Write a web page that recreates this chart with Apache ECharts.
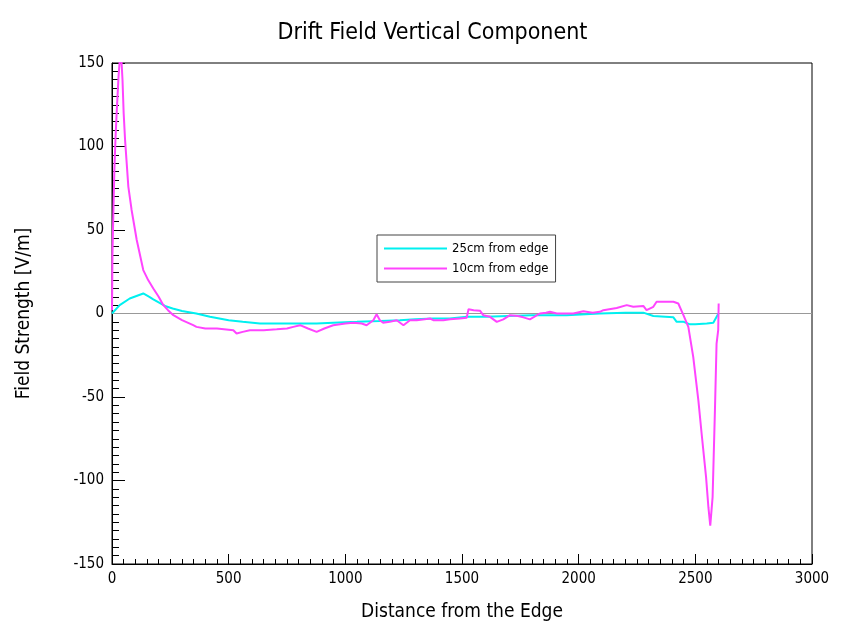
<!DOCTYPE html>
<html>
<head>
<meta charset="utf-8">
<script src="https://cdn.jsdelivr.net/npm/echarts@6/dist/echarts.min.js"></script>
<style>
  html, body { margin: 0; padding: 0; background: #fff; }
  #chart { width: 865px; height: 630px; }
</style>
</head>
<body>
<div id="chart"></div>
<script>
// Vertical component of the drift field along the chamber, two offsets from the edge.
const seriesNames = ['25cm from edge', '10cm from edge'];

const dist25 = [0, 33, 76, 134, 160, 177, 227, 260, 300, 361, 420, 500, 560, 634, 700, 800, 877, 948, 1050, 1150,
  1234, 1300, 1377, 1448, 1520, 1600, 1700, 1800, 1948, 2091, 2200, 2277, 2320, 2406, 2420, 2450, 2477, 2500,
  2549, 2577, 2599];
const field25 = [0, 5, 9, 12, 10, 8.5, 4.5, 3, 1.5, 0, -2, -4, -5, -6, -6, -6, -6, -5.5, -5, -4.5,
  -4, -3.5, -3, -3, -2, -2, -1.5, -1, -1, 0, 0.5, 0.5, -1.5, -2.3, -5, -5, -6.5, -6.5,
  -6, -5.5, 0];

const dist10 = [0, 2, 5, 10, 15, 20, 28, 35, 40, 45, 50, 56, 62, 70, 84, 106, 134, 155, 177, 200, 220, 240,
  263, 300, 348, 362, 400, 450, 520, 534, 560, 591, 650, 706, 750, 777, 806, 840, 877, 910, 948, 1000,
  1034, 1070, 1091, 1120, 1134, 1148, 1162, 1190, 1220, 1249, 1277, 1306, 1340, 1363, 1377, 1420, 1449, 1490, 1520, 1528,
  1550, 1577, 1591, 1620, 1649, 1677, 1706, 1740, 1763, 1791, 1834, 1860, 1877, 1906, 1977, 2020, 2060, 2091, 2106, 2163,
  2206, 2234, 2277, 2291, 2320, 2334, 2406, 2427, 2449, 2470, 2491, 2513, 2527, 2546, 2556, 2564, 2574, 2584, 2591, 2598,
  2600];
const field10 = [2, 36, 55, 85, 105, 120, 142, 155, 153, 140, 120, 104, 92, 76, 62, 44, 26, 20, 15, 10, 5, 2,
  -1, -4, -7, -8, -9, -9, -10, -12, -11, -10, -10, -9.5, -9, -8, -7, -9, -11, -9, -7, -6,
  -5.5, -6, -7, -4, -0.5, -4, -5.5, -5, -4, -7, -4, -4, -3.5, -3, -4, -4, -3.5, -3, -2.5, 2.5,
  2, 1.7, -1, -2, -5, -3.5, -1, -1.5, -2.3, -3.5, 0, 0.5, 1, 0, 0, 1.3, 0.5, 1, 2, 3.3,
  5, 4, 4.5, 2, 4, 7, 7, 6, -1, -8, -26, -52, -72, -98, -116, -127, -110, -58, -18, -10,
  6];

const xTicks = { min: 0, max: 3000, step: 500 };
const yTicks = { min: -150, max: 150, step: 50 };

const pairs = (xs, ys) => xs.map((x, i) => [x, ys[i]]);

const FONT = '"DejaVu Sans Condensed", "Liberation Sans Narrow", "Liberation Sans", sans-serif';

const chart = echarts.init(document.getElementById('chart'), null, { renderer: 'canvas' });

chart.setOption({
  backgroundColor: '#ffffff',
  animation: false,
  title: {
    text: 'Drift Field Vertical Component',
    left: 'center',
    top: 17,
    textStyle: { fontFamily: FONT, fontSize: 23, fontWeight: 'normal', color: '#000' }
  },
  legend: {
    orient: 'vertical',
    left: 377,
    top: 235,
    padding: [7, 7, 7, 7],
    itemGap: 7,
    itemWidth: 63,
    itemHeight: 2,
    icon: 'rect',
    borderColor: '#444',
    borderWidth: 1,
    backgroundColor: '#fff',
    textStyle: { fontFamily: FONT, fontSize: 13, color: '#000' },
    data: seriesNames
  },
  grid: {
    left: 112,
    right: 53,
    top: 63,
    bottom: 66,
    show: true,
    borderColor: '#000',
    borderWidth: 1,
    backgroundColor: 'transparent'
  },
  xAxis: {
    type: 'value',
    min: xTicks.min,
    max: xTicks.max,
    interval: xTicks.step,
    name: 'Distance from the Edge',
    nameLocation: 'middle',
    nameGap: 39,
    nameTextStyle: { fontFamily: FONT, fontSize: 19, color: '#000' },
    axisLine: { onZero: false, lineStyle: { color: '#000', width: 1 } },
    axisTick: { inside: true, length: 10, lineStyle: { color: '#000' } },
    minorTick: { show: true, splitNumber: 10, length: 5, lineStyle: { color: '#000' } },
    splitLine: { show: false },
    axisLabel: { fontFamily: FONT, fontSize: 15, color: '#000', margin: 8, formatter: (v) => String(v) }
  },
  yAxis: {
    type: 'value',
    min: yTicks.min,
    max: yTicks.max,
    interval: yTicks.step,
    name: 'Field Strength [V/m]',
    nameLocation: 'middle',
    nameGap: 78,
    nameRotate: 90,
    nameTextStyle: { fontFamily: FONT, fontSize: 19, color: '#000' },
    axisLine: { onZero: false, lineStyle: { color: '#000', width: 1 } },
    axisTick: { inside: true, length: 13, lineStyle: { color: '#000' } },
    minorTick: { show: true, splitNumber: 10, length: 7, lineStyle: { color: '#000' } },
    splitLine: { show: false },
    axisLabel: { fontFamily: FONT, fontSize: 15, color: '#000', margin: 8, formatter: (v) => String(v) }
  },
  series: [
    {
      name: seriesNames[0],
      type: 'line',
      data: pairs(dist25, field25),
      showSymbol: false,
      clip: true,
      color: '#00f0f0',
      lineStyle: { width: 2, color: '#00f0f0' },
      z: 3,
      markLine: {
        silent: true,
        symbol: 'none',
        label: { show: false },
        lineStyle: { color: '#999', width: 1, type: 'solid' },
        data: [{ yAxis: 0 }],
        z: 1
      }
    },
    {
      name: seriesNames[1],
      type: 'line',
      data: pairs(dist10, field10),
      showSymbol: false,
      clip: true,
      color: '#ff44ff',
      lineStyle: { width: 2, color: '#ff44ff' },
      z: 4
    }
  ]
});
</script>
</body>
</html>
